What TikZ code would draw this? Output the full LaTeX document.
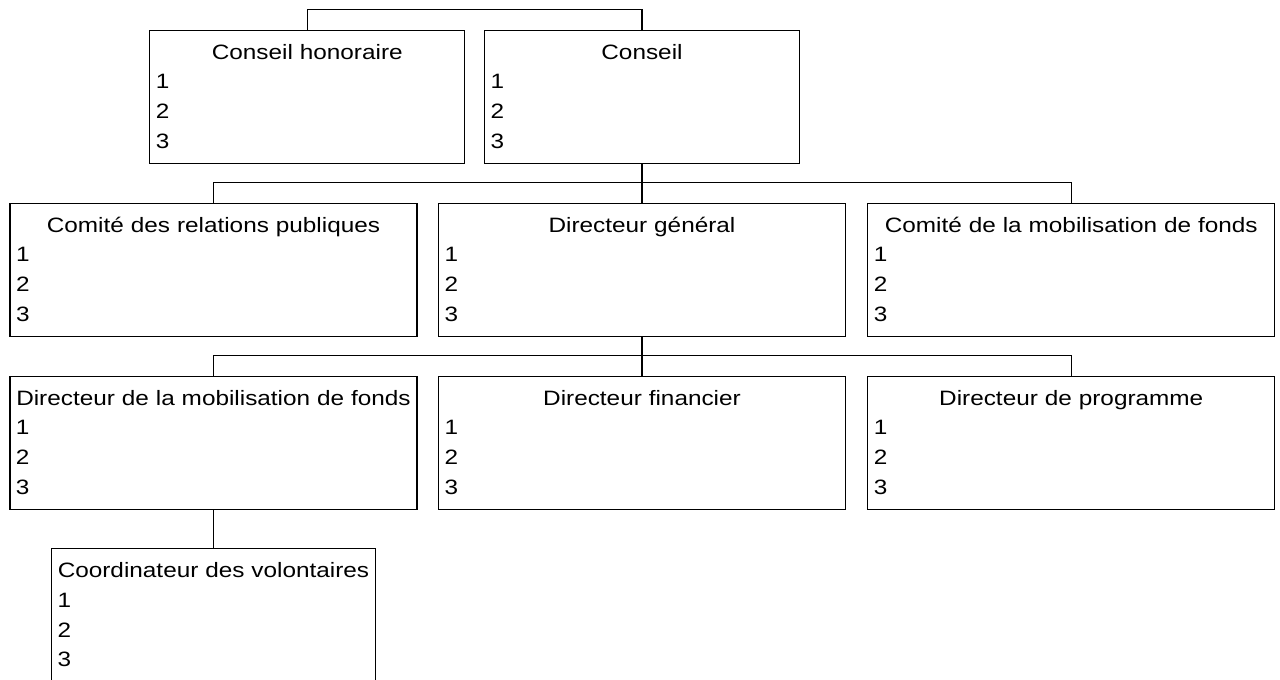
\documentclass[tikz,border=0pt]{standalone}
\usepackage{fontspec}
\setmainfont[FakeStretch=1.17]{Liberation Sans}
\usetikzlibrary{positioning}
\tikzset{
  poste/.style={draw, line width=1.4pt, rectangle, anchor=north,
    inner xsep=6pt, inner ysep=0pt, text height=29pt, text depth=104pt,
    align=left, font=\fontsize{20.8}{29.7}\selectfont},
  lien/.style={line width=1.4pt}
}
\newcommand{\titre}[1]{\makebox[\linewidth]{#1}}

\begin{document}
\begin{tikzpicture}[x=1pt,y=-1pt]
\useasboundingbox (0,0) rectangle (1280,680);
% conseils
\node[poste, text width=303pt] (honoraire) at (307.25,29.5) {\titre{Conseil honoraire}\\1\\2\\3};
\node[poste, text width=303pt] (conseil) at (642,29.5) {\titre{Conseil}\\1\\2\\3};
% comites et direction
\node[poste, text width=395pt] (relpub) at (213.5,202.5) {\titre{Comité des relations publiques}\\1\\2\\3};
\node[poste, text width=395pt] (dg) at (642,202.5) {\titre{Directeur général}\\1\\2\\3};
\node[poste, text width=395pt] (comfonds) at (1071.25,202.5) {\titre{Comité de la mobilisation de fonds}\\1\\2\\3};
% directeurs
\node[poste, text width=395pt] (dirmob) at (213.5,375.5) {\titre{Directeur de la mobilisation de fonds}\\1\\2\\3};
\node[poste, text width=395pt] (dirfin) at (642,375.5) {\titre{Directeur financier}\\1\\2\\3};
\node[poste, text width=395pt] (dirprog) at (1071.25,375.5) {\titre{Directeur de programme}\\1\\2\\3};
% volontaires
\node[poste, text width=312pt] (coord) at (213.5,548) {\titre{Coordinateur des volontaires}\\1\\2\\3};
% liens
\draw[lien] (honoraire.north) -- ++(0,-20) -| (conseil.north);
\draw[lien] (conseil.south) -- (dg.north);
\draw[lien] (relpub.north) -- ++(0,-20) -| (comfonds.north);
\draw[lien] (dg.south) -- (dirfin.north);
\draw[lien] (dirmob.north) -- ++(0,-20) -| (dirprog.north);
\draw[lien] (dirmob.south) -- (coord.north);
\end{tikzpicture}
\end{document}
